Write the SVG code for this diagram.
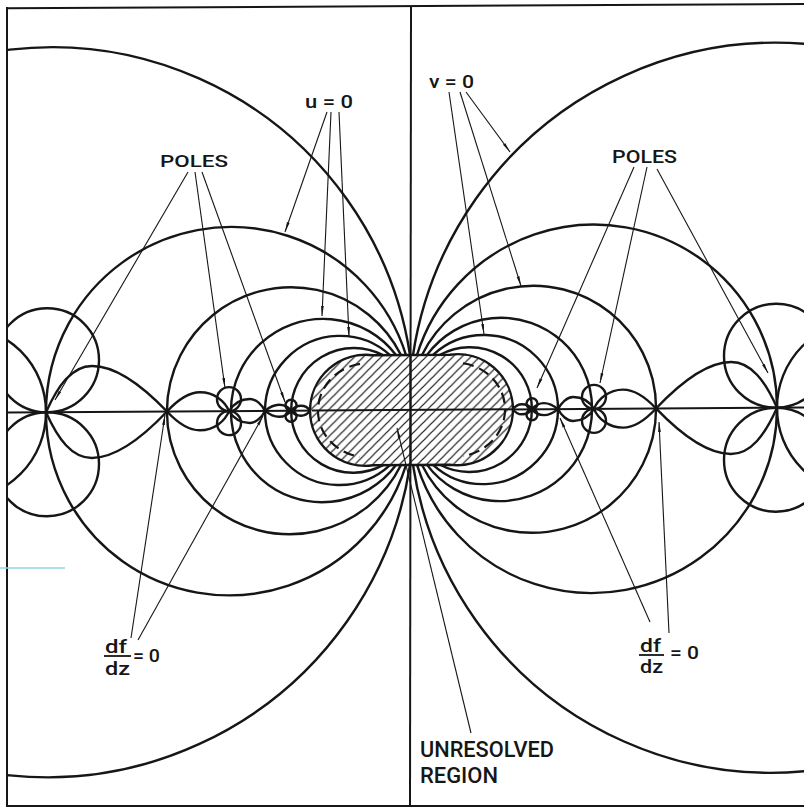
<svg xmlns="http://www.w3.org/2000/svg" xmlns:xlink="http://www.w3.org/1999/xlink" width="804" height="809" viewBox="0 0 804 809">
<defs>
<style>
.c{fill:none;stroke:#161616;stroke-width:2.4}
.ax{fill:none;stroke:#161616;stroke-width:2}
.ld{fill:none;stroke:#161616;stroke-width:1.1}
.fr{fill:none;stroke:#161616;stroke-width:2}
.dash{fill:none;stroke:#161616;stroke-width:2.2;stroke-dasharray:11 6}
.t{font-family:Roboto,"Liberation Sans",Arial,sans-serif;font-weight:500;fill:#161616}
</style>
<pattern id="hatch" width="9" height="9" patternUnits="userSpaceOnUse">
<path d="M0,9 L9,0 M-2,2 L2,-2 M7,11 L11,7" stroke="#161616" stroke-width="1.2"/>
</pattern>
<marker id="ah" viewBox="0 0 10 4" refX="10" refY="2" markerWidth="10" markerHeight="4" orient="auto" markerUnits="userSpaceOnUse">
<path d="M0,0.6 L10,2 L0,3.4 Z" fill="#161616"/>
</marker>
<clipPath id="clip"><rect x="7" y="5" width="797" height="801"/></clipPath>
</defs>
<rect width="804" height="809" fill="#fff"/>

<g clip-path="url(#clip)">
<g id="plot" transform="matrix(1,-0.00627,0,1,0,2.57)">
<g id="half">
<path class="c" d="M410,355 A365,365 0 1 0 410,465"/>
<path class="c" d="M406,355 A184.2,184.2 0 1 0 406,465"/>
<path class="c" d="M401,355 A123.5,123.5 0 1 0 401,465"/>
<path class="c" d="M396,355 A91.7,91.7 0 1 0 396,465"/>
<path class="c" d="M390,355 A74.6,74.6 0 1 0 390,465"/>
<path class="c" d="M383,355 A62.4,62.4 0 1 0 383,465"/>
<circle class="c" cx="-41" cy="410" r="87"/>
<circle class="c" cx="47" cy="358" r="52"/>
<circle class="c" cx="47" cy="462" r="52"/>
<circle class="c" cx="229" cy="398" r="12"/>
<circle class="c" cx="229" cy="422" r="12"/>
<circle class="c" cx="291" cy="404.5" r="5.5"/>
<circle class="c" cx="291" cy="415.5" r="5.5"/>
<path class="c" d="M46,410 C58,383 72,364 92,364 C118,364 146,388 167,410 M46,410 C58,437 72,456 92,456 C118,456 146,432 167,410"/>
<path class="c" d="M167,410 C180,396 190,391 200,391 C214,391 225,400 229,410 M167,410 C180,424 190,429 200,429 C214,429 225,420 229,410"/>
<path class="c" d="M229,410 C234,402 242,398 250,398 C256,398 262,404 265,410 M229,410 C234,418 242,422 250,422 C256,422 262,416 265,410"/>
<path class="c" d="M265,410 C270,406 274,404 279,404 C284,404 288,406 291,410 M265,410 C270,414 274,416 279,416 C284,416 288,414 291,410"/>
<path class="c" d="M291,410 C294,406 298,405 301,405 C305,405 308,407 310,410 M291,410 C294,414 298,415 301,415 C305,415 308,413 310,410"/>
</g>
<use xlink:href="#half" href="#half" transform="matrix(-1,0,0,1,823,0)"/>
<line class="ax" x1="0" y1="410" x2="810" y2="410"/>
<g id="unresolved-region">
<path d="M373,355 L450,355 A55.5,55.5 0 1 1 450,465 L373,465 A55.5,55.5 0 1 1 373,355 Z" fill="#fff"/>
<path d="M373,355 L450,355 A55.5,55.5 0 1 1 450,465 L373,465 A55.5,55.5 0 1 1 373,355 Z" fill="url(#hatch)" stroke="#161616" stroke-width="2.4"/>
<path class="dash" d="M360,363.6 A50,47 0 0 0 360,456.4"/>
<path class="dash" d="M463,363.6 A50,47 0 0 1 463,456.4"/>
<line class="ax" x1="410.5" y1="355" x2="410.5" y2="465"/>
<line class="ax" x1="312" y1="410" x2="513" y2="410"/>
</g>
</g>
</g>

<g id="frame">
<line class="fr" x1="7" y1="8.3" x2="804" y2="4"/>
<line class="fr" x1="7" y1="7" x2="7" y2="807"/>
<line class="fr" x1="6" y1="806" x2="804" y2="806"/>
<line class="ax" x1="411" y1="6" x2="410" y2="806"/>
<line x1="0" y1="568" x2="65" y2="568" stroke="#8fd6e6" stroke-width="1.5"/>
</g>

<g id="connectors">
<line class="ld" x1="327" y1="112" x2="285" y2="232" marker-end="url(#ah)"/>
<line class="ld" x1="331" y1="112" x2="322" y2="316" marker-end="url(#ah)"/>
<line class="ld" x1="339" y1="112" x2="349" y2="337" marker-end="url(#ah)"/>
<line class="ld" x1="188" y1="172" x2="55" y2="400" marker-end="url(#ah)"/>
<line class="ld" x1="195" y1="172" x2="225" y2="388" marker-end="url(#ah)"/>
<line class="ld" x1="202" y1="172" x2="285" y2="402" marker-end="url(#ah)"/>
<line class="ld" x1="449" y1="92" x2="484" y2="334" marker-end="url(#ah)"/>
<line class="ld" x1="460" y1="92" x2="521" y2="286" marker-end="url(#ah)"/>
<line class="ld" x1="466" y1="92" x2="510" y2="152" marker-end="url(#ah)"/>
<line class="ld" x1="634" y1="167" x2="537" y2="388" marker-end="url(#ah)"/>
<line class="ld" x1="647" y1="167" x2="600" y2="383" marker-end="url(#ah)"/>
<line class="ld" x1="657" y1="169" x2="768" y2="373" marker-end="url(#ah)"/>
<line class="ld" x1="131" y1="638" x2="165" y2="415" marker-end="url(#ah)"/>
<line class="ld" x1="138" y1="640" x2="263" y2="416" marker-end="url(#ah)"/>
<line class="ld" x1="650" y1="622" x2="560" y2="418" marker-end="url(#ah)"/>
<line class="ld" x1="669" y1="633" x2="659" y2="422" marker-end="url(#ah)"/>
<line class="ld" x1="471" y1="733" x2="397" y2="428" marker-end="url(#ah)"/>
</g>

<g id="labels">
<text class="t" x="305" y="108" font-size="18" textLength="48" lengthAdjust="spacingAndGlyphs">u = 0</text>
<text class="t" x="429" y="88" font-size="18" textLength="45" lengthAdjust="spacingAndGlyphs">v = 0</text>
<text class="t" x="160" y="167" font-size="17" textLength="68" lengthAdjust="spacingAndGlyphs">POLES</text>
<text class="t" x="612" y="163" font-size="18" textLength="65" lengthAdjust="spacingAndGlyphs">POLES</text>
<text class="t" x="420" y="757" font-size="22" textLength="134" lengthAdjust="spacingAndGlyphs">UNRESOLVED</text>
<text class="t" x="420" y="783" font-size="22" textLength="78" lengthAdjust="spacingAndGlyphs">REGION</text>
<g id="dfdz-left">
<text class="t" x="105" y="653" font-size="18" textLength="22" lengthAdjust="spacingAndGlyphs">df</text>
<line x1="104" y1="656" x2="131" y2="656" stroke="#161616" stroke-width="1.8"/>
<text class="t" x="105" y="675" font-size="18" textLength="25" lengthAdjust="spacingAndGlyphs">dz</text>
<text class="t" x="133" y="662" font-size="18" textLength="27" lengthAdjust="spacingAndGlyphs">= 0</text>
</g>
<g id="dfdz-right">
<text class="t" x="640" y="652" font-size="18" textLength="21" lengthAdjust="spacingAndGlyphs">df</text>
<line x1="639" y1="655" x2="664" y2="655" stroke="#161616" stroke-width="1.8"/>
<text class="t" x="640" y="673" font-size="18" textLength="23" lengthAdjust="spacingAndGlyphs">dz</text>
<text class="t" x="670" y="659" font-size="18" textLength="29" lengthAdjust="spacingAndGlyphs">= 0</text>
</g>
</g>
</svg>
